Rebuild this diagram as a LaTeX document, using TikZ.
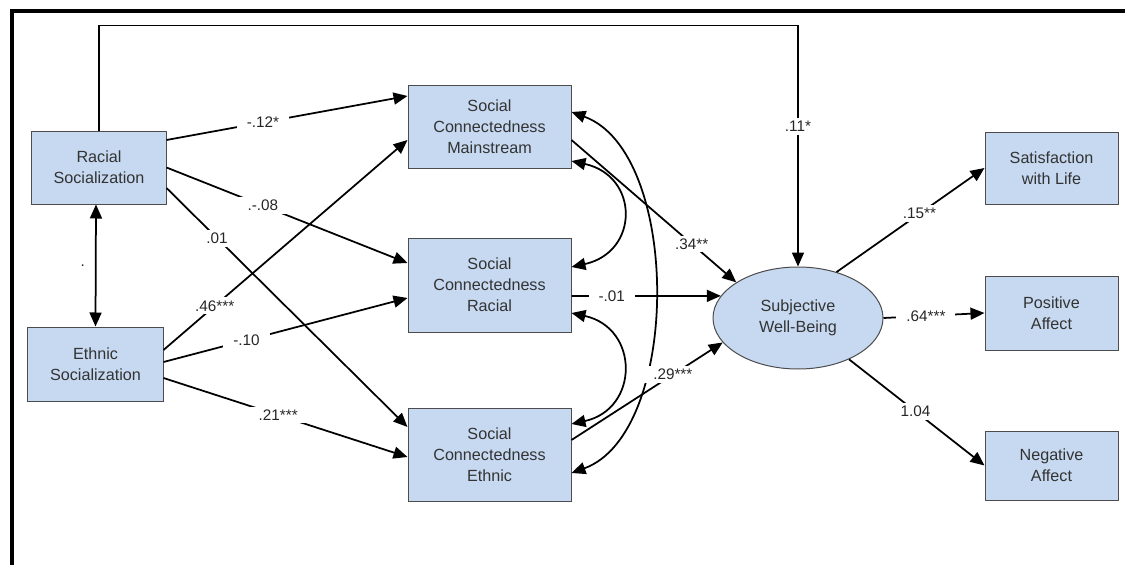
\documentclass[tikz,border=0pt]{standalone}
\usepackage{fontspec}
\setmainfont{Liberation Sans}
\usetikzlibrary{arrows.meta, shapes.geometric}
\definecolor{boxblue}{RGB}{198,217,241}

\begin{document}
\begin{tikzpicture}[x=0.2mm, y=-0.2mm,
  >={Triangle[length=2.8mm, width=2.4mm]},
  varbox/.style={draw=black!70, line width=0.2mm, fill=boxblue, align=center,
    inner sep=0pt, text=black!80, font=\fontsize{9.2}{12}\selectfont},
  oval/.style={ellipse, varbox, minimum width=34mm, minimum height=20.4mm},
  coef/.style={fill=white, inner xsep=2mm, inner ysep=0.6mm, text=black!85,
    font=\fontsize{8.7}{10}\selectfont},
  link/.style={line width=0.35mm}]

\useasboundingbox ( 0, 0 ) rectangle ( 1125, 565 );

% Frame
\draw [line width=0.8mm] ( 12, 565 ) -- ( 12, 11 ) -- ( 1125, 11 );

% Socialization
\node (racsoc) at ( 99, 167.5 ) [varbox, minimum width=26.8mm, minimum height=14.6mm] {Racial\\Socialization};
\node (ethsoc) at ( 95.5, 364 ) [varbox, minimum width=27mm, minimum height=14.8mm] {Ethnic\\Socialization};

% Social connectedness
\node (scm) at ( 489.5, 127 ) [varbox, minimum width=32.6mm, minimum height=16.4mm] {Social\\Connectedness\\Mainstream};
\node (scr) at ( 489.5, 285 ) [varbox, minimum width=32.6mm, minimum height=18.8mm] {Social\\Connectedness\\Racial};
\node (sce) at ( 489.5, 454.5 ) [varbox, minimum width=32.6mm, minimum height=18.6mm] {Social\\Connectedness\\Ethnic};

% Well-being
\node (swb) at ( 798, 318 ) [oval] {Subjective\\Well-Being};
\node (swl) at ( 1051.5, 168 ) [varbox, minimum width=26.6mm, minimum height=14.4mm] {Satisfaction\\with Life};
\node (posaff) at ( 1051.5, 313 ) [varbox, minimum width=26.6mm, minimum height=14.8mm] {Positive\\Affect};
\node (negaff) at ( 1051.5, 465.5 ) [varbox, minimum width=26.6mm, minimum height=13.8mm] {Negative\\Affect};

% Paths from racial socialization
\draw [link, ->] (racsoc.north) -- ++( 0, -105 ) -| node [coef, pos=0.71] {.11*} (swb.north);
\draw [link, ->] ([yshift=5.5mm]racsoc.east) -- node [coef, pos=0.40] {-.12*} ([yshift=6.2mm]scm.west);
\draw [link, ->] (racsoc.east) -- node [coef, pos=0.40] {.-.08} ([yshift=4.4mm]scr.west);
\draw [link, ->] ([yshift=-4.1mm]racsoc.east) -- node [coef, pos=0.21] {.01} ([yshift=5.5mm]sce.west);
\draw [link, <->] ([xshift=-0.6mm]racsoc.south) -- node [coef, fill=none, left] {.} (ethsoc.north);

% Paths from ethnic socialization
\draw [link, ->] ([yshift=2.8mm]ethsoc.east) -- node [coef, pos=0.21] {.46***} ([yshift=-2.6mm]scm.west);
\draw [link, ->] ([yshift=0.4mm]ethsoc.east) -- node [coef, pos=0.34] {-.10} ([yshift=-2.6mm]scr.west);
\draw [link, ->] ([yshift=-2.8mm]ethsoc.east) -- node [coef, pos=0.47] {.21***} ([yshift=-0.5mm]sce.west);

% Covariances
\draw [link, <->] ([yshift=-6.8mm]scm.east) .. controls +( 68, 15 ) and +( 68, -15 ) .. ([yshift=3.6mm]scr.east);
\draw [link, <->] ([yshift=-5.6mm]scr.east) .. controls +( 68, 15 ) and +( 68, -15 ) .. ([yshift=6.1mm]sce.east);
\draw [link, <->] ([yshift=3mm]scm.east) .. controls +( 110, 40 ) and +( 110, -40 ) .. ([yshift=-3.7mm]sce.east);

% Paths to well-being
\draw [link, ->] ([yshift=-2.6mm]scm.east) -- node [coef, pos=0.73] {.34**} (swb.150);
\draw [link, ->] ([yshift=-2.2mm]scr.east) -- node [coef, pos=0.27] {-.01} (swb.164);
\draw [link, ->] ([yshift=2.9mm]sce.east) -- node [coef, pos=0.67] {.29***} (swb.198);

% Indicators
\draw [link, ->] (swb.50) -- node [coef, pos=0.56] {.15**} (swl.west);
\draw [link, ->] (swb.east) -- node [coef, pos=0.42] {.64***} (posaff.west);
\draw [link, ->] (swb.-39) -- node [coef, pos=0.49] {1.04} (negaff.west);

\end{tikzpicture}
\end{document}
